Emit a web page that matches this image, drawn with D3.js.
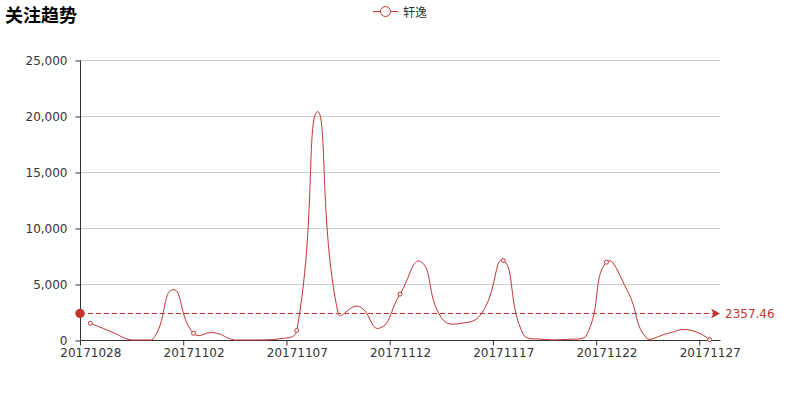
<!DOCTYPE html>
<html>
<head>
<meta charset="utf-8">
<script src="https://cdn.jsdelivr.net/npm/d3@7"></script>
<style>
  html, body { margin: 0; padding: 0; background: #fff; }
  svg { display: block; }
</style>
</head>
<body>
<svg id="chart" width="800" height="400"></svg>
<script>
// ---- data ----
const titleText = "关注趋势";
const seriesName = "轩逸";
const dates = [
  "20171028","20171029","20171030","20171031","20171101","20171102","20171103",
  "20171104","20171105","20171106","20171107","20171108","20171109","20171110",
  "20171111","20171112","20171113","20171114","20171115","20171116","20171117",
  "20171118","20171119","20171120","20171121","20171122","20171123","20171124",
  "20171125","20171126","20171127"
];
const values = [
  1500, 750, 0, 0, 4500, 600, 650, 0, 0, 60, 850, 20400, 2400, 3000, 1050,
  4100, 7000, 2000, 1500, 2500, 7100, 400, 50, 50, 300, 6950, 4450, 60, 600, 900, 30
];
const yTicks = [0, 5000, 10000, 15000, 20000, 25000];
const avgValue = 2357.46;
const avgLabel = "2357.46";

// ---- layout ----
const color = "#c23531";
const fontLatin = "'DejaVu Sans', sans-serif";
const fontCJK = "'Noto Sans CJK SC', 'DejaVu Sans', sans-serif";
const gLeft = 80, gRight = 720, gTop = 60, gBottom = 340;

const svg = d3.select("#chart");
svg.append("rect").attr("width", 800).attr("height", 400).attr("fill", "#fff");

const x = d3.scaleBand().domain(dates).range([gLeft, gRight]).padding(0);
const y = d3.scaleLinear().domain([0, 25000]).range([gBottom, gTop]);
const bw = x.bandwidth();
const cx = d => x(d) + bw / 2;

// grid lines
svg.append("g").selectAll("line")
  .data(yTicks.filter(t => t !== 0))
  .join("line")
  .attr("x1", gLeft).attr("x2", gRight)
  .attr("y1", d => Math.round(y(d)) + 0.5).attr("y2", d => Math.round(y(d)) + 0.5)
  .attr("stroke", "#ccc").attr("stroke-width", 1);

// y axis
const yAxis = svg.append("g")
  .attr("transform", `translate(${gLeft + 0.5},0.5)`)
  .call(d3.axisLeft(y).tickValues(yTicks).tickSize(5).tickPadding(8).tickFormat(d3.format(",")));
yAxis.select(".domain").attr("stroke", "#333").attr("d", `M0,${gTop}V${gBottom}`);
yAxis.selectAll(".tick line").attr("stroke", "#333");
yAxis.selectAll(".tick text").attr("fill", "#333").style("font-family", fontLatin).style("font-size", "12px");

// x axis
const xTickVals = dates.filter((d, i) => i % 5 === 0);
const xAxis = svg.append("g")
  .attr("transform", `translate(0.5,${gBottom + 0.5})`)
  .call(d3.axisBottom(x).tickValues(xTickVals).tickSize(5).tickPadding(3));
xAxis.select(".domain").attr("stroke", "#333").attr("d", `M${gLeft},0H${gRight}`);
xAxis.selectAll(".tick line").attr("stroke", "#333").attr("x1", -bw / 2).attr("x2", -bw / 2);
xAxis.selectAll(".tick text").attr("fill", "#333").style("font-family", fontLatin).style("font-size", "12px");

// smooth line (ECharts-like smoothing)
const pts = dates.map((d, i) => [cx(d), y(values[i])]);
function smoothPath(p, smooth) {
  const n = p.length;
  const minX = d3.min(p, q => q[0]), maxX = d3.max(p, q => q[0]);
  const minY = d3.min(p, q => q[1]), maxY = d3.max(p, q => q[1]);
  const clamp = c => [Math.max(minX, Math.min(maxX, c[0])), Math.max(minY, Math.min(maxY, c[1]))];
  const cps = [p[0]];
  for (let i = 1; i < n - 1; i++) {
    const prev = p[i - 1], cur = p[i], next = p[i + 1];
    const vx = (next[0] - prev[0]) * smooth, vy = (next[1] - prev[1]) * smooth;
    let d0 = Math.hypot(cur[0] - prev[0], cur[1] - prev[1]);
    let d1 = Math.hypot(cur[0] - next[0], cur[1] - next[1]);
    const s = d0 + d1;
    if (s !== 0) { d0 /= s; d1 /= s; }
    cps.push(clamp([cur[0] - vx * d0, cur[1] - vy * d0]));
    cps.push(clamp([cur[0] + vx * d1, cur[1] + vy * d1]));
  }
  cps.push(p[n - 1]);
  const path = d3.path();
  path.moveTo(p[0][0], p[0][1]);
  for (let i = 0; i < n - 1; i++) {
    const c1 = cps[2 * i], c2 = cps[2 * i + 1], e = p[i + 1];
    path.bezierCurveTo(c1[0], c1[1], c2[0], c2[1], e[0], e[1]);
  }
  return path.toString();
}
svg.append("path")
  .attr("d", smoothPath(pts, 0.5))
  .attr("fill", "none").attr("stroke", color).attr("stroke-width", 1);

// symbols
svg.append("g").selectAll("circle")
  .data(dates.map((d, i) => ({ d, v: values[i], i })).filter(o => o.i % 5 === 0))
  .join("circle")
  .attr("cx", o => cx(o.d)).attr("cy", o => y(o.v)).attr("r", 2)
  .attr("fill", "#fff").attr("stroke", color).attr("stroke-width", 1);

// mark line (average)
const ayRaw = y(avgValue);
const ay = Math.floor(ayRaw) + 0.5;
svg.append("line")
  .attr("x1", gLeft).attr("x2", gRight - 6)
  .attr("y1", ay).attr("y2", ay)
  .attr("stroke", color).attr("stroke-width", 1).attr("stroke-dasharray", "5,3");
svg.append("circle").attr("cx", gLeft).attr("cy", ay).attr("r", 4.7).attr("fill", color);
svg.append("path")
  .attr("d", `M${gRight},${ay}L${gRight - 9},${ay - 5}L${gRight - 6.5},${ay}L${gRight - 9},${ay + 5}Z`)
  .attr("fill", color);
svg.append("text")
  .attr("x", gRight + 5).attr("y", ay)
  .attr("dominant-baseline", "central")
  .attr("fill", color)
  .style("font-family", fontLatin).style("font-size", "12px")
  .text(avgLabel);

// title
svg.append("text")
  .attr("x", 5).attr("y", 22)
  .attr("fill", "#000")
  .style("font-family", fontCJK).style("font-size", "18px").style("font-weight", "bold")
  .text(titleText);

// legend
const lg = svg.append("g").attr("transform", "translate(373,11.5)");
lg.append("line").attr("x1", 0).attr("x2", 25).attr("y1", 0).attr("y2", 0)
  .attr("stroke", color).attr("stroke-width", 1);
lg.append("circle").attr("cx", 12.5).attr("cy", 0).attr("r", 5)
  .attr("fill", "#fff").attr("stroke", color).attr("stroke-width", 1);
lg.append("text").attr("x", 30).attr("y", 0)
  .attr("dominant-baseline", "central")
  .attr("fill", "#333")
  .style("font-family", fontCJK).style("font-size", "12px")
  .text(seriesName);
</script>
</body>
</html>
